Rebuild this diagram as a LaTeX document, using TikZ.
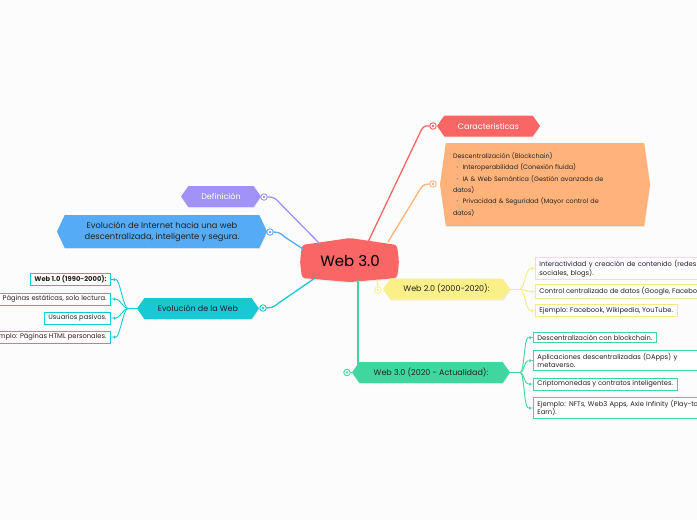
\documentclass[tikz,border=0pt]{standalone}
\usepackage{fontspec}
\setmainfont{Poppins}
\usetikzlibrary{shapes.symbols,backgrounds,calc,shadows}
\definecolor{bgc}{HTML}{FCFCFC}
\definecolor{cred}{HTML}{FA6666}
\definecolor{corange}{HTML}{FFB27A}
\definecolor{cpurple}{HTML}{A092F7}
\definecolor{cblue}{HTML}{55ABF5}
\definecolor{cteal}{HTML}{16C9D2}
\definecolor{cgreen}{HTML}{3FD6A0}
\definecolor{cyellow}{HTML}{FAF08A}
\definecolor{cyline}{HTML}{F6E98A}
\definecolor{cbul}{HTML}{6B8FEA}
\definecolor{ctext}{HTML}{222222}
\begin{document}
\begin{tikzpicture}[x=1pt,y=-1pt,
  shd/.style={drop shadow={opacity=0.12,shadow xshift=0.6pt,shadow yshift=-1.2pt}},
  branch/.style={shape=signal, signal to=east and west, signal pointer angle=110,
     fill=#1, draw=none, inner sep=0pt, minimum height=21pt, text=ctext,
     font=\fontsize{8}{10}\selectfont, shd},
  ring/.style={circle, draw=#1, fill=white, line width=0.9pt, inner sep=0pt, minimum size=6.5pt,
     path picture={\fill[#1] (path picture bounding box.center) circle (1.3pt);}},
  conn/.style={draw=#1, line width=1.3pt, line cap=round},
  leaf/.style={draw=#1, fill=white, line width=0.9pt, inner xsep=4pt, inner ysep=2.5pt,
     align=left, text=ctext, font=\fontsize{6.75}{8.7}\selectfont},
  leafbold/.style={leaf=#1, font=\fontsize{6.75}{8.7}\selectfont\bfseries},
  dotc/.style={circle, fill=#1, inner sep=0pt, minimum size=3pt},
  twig/.style={draw=#1, line width=0.9pt},
]
\useasboundingbox (0,0) rectangle (697,520);

% central node
\node[font=\fontsize{15}{18}\selectfont, text=black, inner sep=0pt] (c) at (350,261) {Web 3.0};

% branch nodes
\node[branch=cred, text=white, minimum width=103pt] (car) at (488.5,126) {Caracteristicas};
\node[branch=corange, signal pointer angle=164, minimum width=210pt, minimum height=83pt,
      text width=184pt, align=left, font=\fontsize{6.4}{11.4}\selectfont] (ori) at (545,184.5)
 {Descentralización (Blockchain)\\
  \hspace*{3pt}{\color{cbul}\textbullet}\hspace{4pt}Interoperabilidad (Conexión fluida)\\
  \hspace*{3pt}{\color{cbul}\textbullet}\hspace{4pt}IA \& Web Semántica (Gestión avanzada de\\
  datos)\\
  \hspace*{3pt}{\color{cbul}\textbullet}\hspace{4pt}Privacidad \& Seguridad (Mayor control de\\
  datos)};
\node[branch=cpurple, text=white, minimum width=80pt] (def) at (221,196.5) {Definición};
\node[branch=cblue, signal pointer angle=130, minimum width=210pt, minimum height=33pt,
      align=center, font=\fontsize{8.3}{11}\selectfont] (blu) at (162,231.5)
 {Evolución de Internet hacia una web\\descentralizada, inteligente y segura.};
\node[branch=cteal, minimum width=122pt] (evo) at (198,308.5) {Evolución de la Web};
\node[branch=cyellow, minimum width=127pt] (w2) at (446.5,289) {Web 2.0 (2000-2020):};
\node[branch=cgreen, minimum width=158pt] (w3) at (431,372.5) {Web 3.0 (2020 - Actualidad):};

% rings
\node[ring=cred] (kc) at (433,126) {};
\node[ring=corange] (ko) at (433,184) {};
\node[ring=cpurple] (kd) at (264,197) {};
\node[ring=cblue] (kb) at (270,232) {};
\node[ring=cteal] (ke) at (263,308) {};
\node[ring=cyellow] (ky) at (378,290) {};
\node[ring=cgreen] (kw) at (347,372.5) {};

% leaves: Evolución de la Web
\node[leafbold=cteal, anchor=east] (e1) at (111,279.5) {Web 1.0 (1990-2000):};
\node[leaf=cteal, anchor=east] (e2) at (111,299) {Páginas estáticas, solo lectura.};
\node[leaf=cteal, anchor=east] (e3) at (111,318) {Usuarios pasivos.};
\node[leaf=cteal, anchor=east] (e4) at (111,337) {Ejemplo: Páginas HTML personales.};

% leaves: Web 2.0
\node[leaf=cyline, anchor=west, text width=175pt] (y1) at (535,268.5) {Interactividad y creación de contenido (redes\\sociales, blogs).};
\node[leaf=cyline, anchor=west] (y2) at (535,291.5) {Control centralizado de datos (Google, Facebook).};
\node[leaf=cyline, anchor=west] (y3) at (535,310.5) {Ejemplo: Facebook, Wikipedia, YouTube.};

% leaves: Web 3.0
\node[leaf=cgreen, anchor=west] (g1) at (533,337.5) {Descentralización con blockchain.};
\node[leaf=cgreen, anchor=west, text width=175pt] (g2) at (533,360.5) {Aplicaciones descentralizadas (DApps) y\\metaverso.};
\node[leaf=cgreen, anchor=west] (g3) at (533,384) {Criptomonedas y contratos inteligentes.};
\node[leaf=cgreen, anchor=west, text width=175pt] (g4) at (533,408) {Ejemplo: NFTs, Web3 Apps, Axie Infinity (Play-to-\\Earn).};

% dots
\foreach \n in {e1,e2,e3,e4}{\node[dotc=cteal] (d\n) at ($(\n.east)+(3.5,0)$) {};}
\foreach \n in {y1,y2,y3}{\node[dotc=cyline] (d\n) at ($(\n.west)+(-3,0)$) {};}
\foreach \n in {g1,g2,g3,g4}{\node[dotc=cgreen] (d\n) at ($(\n.west)+(-3,0)$) {};}

\coordinate (je) at ($(evo.west)+(-9,0)$);
\coordinate (jy) at ($(w2.east)+(10,0)$);
\coordinate (jg) at ($(w3.east)+(10,0)$);

\begin{pgfonlayer}{background}
  \fill[bgc] (0,0) rectangle (697,520);
  % central shape
  \fill[cred, rounded corners=3pt, shd]
    ($(c)+(-48,-16)$) -- ($(c)+(0,-23)$) -- ($(c)+(47,-16)$) -- ($(c)+(49,1)$) --
    ($(c)+(47,17)$) -- ($(c)+(0,21)$) -- ($(c)+(-48,17)$) -- ($(c)+(-50,1)$) -- cycle;
  % main connectors
  \draw[conn=cred] ($(c)+(18,-19)$) -- ($(kc.west)+(-8,4)$) .. controls ($(kc.west)+(-5,-1)$) and ($(kc.west)+(-3,0)$) .. (kc.west);
  \draw[conn=corange] ($(c)+(38,-19)$) -- ($(ko.west)+(-9,5)$) .. controls ($(ko.west)+(-6,0)$) and ($(ko.west)+(-3,0)$) .. (ko.west);
  \draw[conn=cpurple] ($(c)+(-30,-17)$) -- ($(kd.east)+(12,6)$) .. controls ($(kd.east)+(7,0)$) and ($(kd.east)+(4,0)$) .. (kd.east);
  \draw[conn=cblue] ($(c)+(-47,-12)$) -- ($(kb.east)+(11,5)$) .. controls ($(kb.east)+(6,0)$) and ($(kb.east)+(3,0)$) .. (kb.east);
  \draw[conn=cteal] ($(c)+(-35,17)$) -- ($(ke.east)+(12,-5)$) .. controls ($(ke.east)+(6,0)$) and ($(ke.east)+(3,0)$) .. (ke.east);
  \draw[conn=cyellow] ($(c)+(27,19)$) -- (ky.north);
  \draw[conn=cgreen] ($(c)+(8,19)$) -- ($(kw)+(11,0)$) -- (kw.east);
  % twigs
  \draw[twig=cteal] (evo.west) -- (je);
  \foreach \n in {e1,e2,e3,e4}{\draw[twig=cteal] (je) .. controls ($(je)+(-4,0)$) and ($(d\n)+(5,0)$) .. (d\n) -- (\n.east);}
  \draw[twig=cyline] (w2.east) -- (jy);
  \foreach \n in {y1,y2,y3}{\draw[twig=cyline] (jy) .. controls ($(jy)+(4,0)$) and ($(d\n)+(-6,0)$) .. (d\n) -- (\n.west);}
  \draw[twig=cgreen] (w3.east) -- (jg);
  \foreach \n in {g1,g2,g3,g4}{\draw[twig=cgreen] (jg) .. controls ($(jg)+(4,0)$) and ($(d\n)+(-6,0)$) .. (d\n) -- (\n.west);}
\end{pgfonlayer}
\end{tikzpicture}
\end{document}
